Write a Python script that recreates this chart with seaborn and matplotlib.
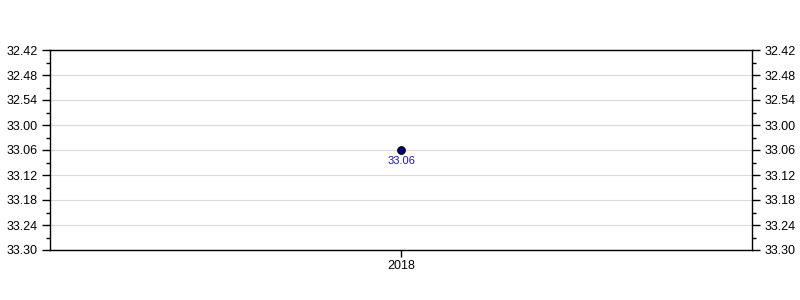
import matplotlib
matplotlib.use("Agg")
import matplotlib.pyplot as plt
import seaborn as sns
import pandas as pd
from matplotlib.ticker import FuncFormatter, MultipleLocator

years = ["2018"]
times = ["33.06"]  # minutes.seconds

def to_sec(t):
    m, s = t.split(".")
    return int(m) * 60 + int(s)

df = pd.DataFrame({"year": years, "sec": [to_sec(t) for t in times], "label": times})

sns.set_theme(style="white")
plt.rcParams["font.family"] = ["Liberation Sans", "DejaVu Sans"]

fig = plt.figure(figsize=(8, 3), dpi=100)
ax = fig.add_axes([50/800, 50/300, 702/800, 200/300])

sns.scatterplot(data=df, x="year", y="sec", ax=ax, s=30, color="#000080",
                edgecolor="black", linewidth=0.8, zorder=3)

for _, r in df.iterrows():
    ax.annotate(r["label"], (r["year"], r["sec"]), xytext=(0, -8),
                textcoords="offset points", ha="center", va="center",
                fontsize=8, color="#1a1aa6")

lo, hi = to_sec("32.42"), to_sec("33.30")
ax.set_ylim(hi, lo)
ax.set_xlim(-0.5, 0.5)
ax.yaxis.set_major_locator(MultipleLocator(6))
ax.yaxis.set_minor_locator(MultipleLocator(3))
ax.yaxis.set_major_formatter(FuncFormatter(lambda v, p: f"{int(v)//60}.{int(v)%60:02d}"))
ax.grid(axis="y", color="#d9d9d9", linewidth=0.8)
ax.grid(axis="x", visible=False)
ax.set_axisbelow(True)
ax.set_xlabel("")
ax.set_ylabel("")
for sp in ax.spines.values():
    sp.set_color("black")
    sp.set_linewidth(1)
ax.tick_params(axis="y", which="both", left=True, right=True, labelleft=True,
               labelright=True, direction="out", colors="black", labelsize=9)
ax.tick_params(axis="y", which="major", length=6, width=1, pad=3)
ax.tick_params(axis="y", which="minor", length=3, width=1)
ax.tick_params(axis="x", bottom=True, length=5, width=1, direction="out",
               labelsize=9, colors="black", pad=2)

fig.savefig("out.png", dpi=100)
